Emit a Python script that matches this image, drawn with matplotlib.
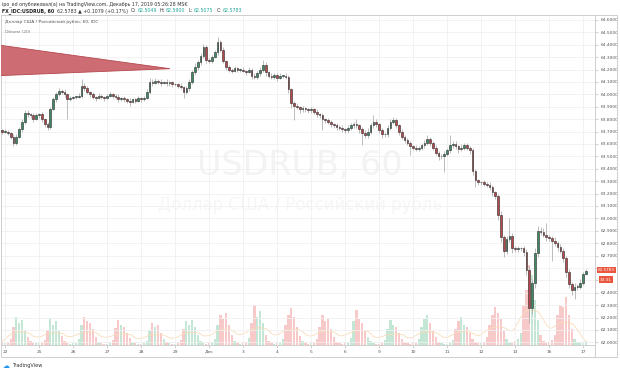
import numpy as np
import matplotlib
matplotlib.use("Agg")
import matplotlib.pyplot as plt
from matplotlib.lines import Line2D

# USDRUB, 60 (FX_IDC), one value per 2 hours
day_labels = ['22', '25', '26', '27', '28', '29', 'Дек', '3', '4', '5', '6',
              '9', '10', '11', '12', '13', '16', '17']

first_open = 63.72
closes = [63.71, 63.70,
          63.70, 63.69, 63.66, 63.61, 63.66, 63.72, 63.78, 63.85, 63.84, 63.83, 63.80, 63.83,
          63.84, 63.80, 63.76, 63.74, 63.88, 63.96, 64.00, 64.03, 64.02, 64.00, 63.96, 63.97,
          63.98, 63.98, 63.99, 64.07, 64.05, 64.02, 64.00, 63.98, 63.97, 63.99, 63.98, 63.97,
          63.99, 64.00, 63.99, 63.98, 63.96, 63.97, 63.96, 63.95, 63.94, 63.96, 63.95, 63.97,
          63.96, 63.97, 64.02, 64.10, 64.09, 64.11, 64.10, 64.09, 64.10, 64.09, 64.10, 64.08,
          64.08, 64.07, 64.06, 64.02, 64.05, 64.10, 64.18, 64.22, 64.26, 64.31, 64.38, 64.28,
          64.27, 64.30, 64.34, 64.42, 64.36, 64.27, 64.22, 64.20, 64.19, 64.21, 64.20, 64.20,
          64.19, 64.18, 64.20, 64.15, 64.14, 64.17, 64.20, 64.24, 64.18, 64.15, 64.14, 64.16,
          64.13, 64.15, 64.15, 64.14, 64.04, 63.93, 63.91, 63.90, 63.88, 63.89, 63.88, 63.87,
          63.88, 63.86, 63.84, 63.83, 63.80, 63.79, 63.78, 63.76, 63.75, 63.74, 63.73, 63.72,
          63.71, 63.73, 63.75, 63.76, 63.75, 63.72, 63.69, 63.67, 63.70, 63.75, 63.78, 63.76,
          63.71, 63.68, 63.68, 63.73, 63.78, 63.79, 63.75, 63.70, 63.66, 63.63, 63.61, 63.58,
          63.57, 63.56, 63.57, 63.59, 63.61, 63.64, 63.61, 63.57, 63.53, 63.50, 63.50, 63.52,
          63.55, 63.59, 63.60, 63.58, 63.56, 63.57, 63.59, 63.57, 63.55, 63.38, 63.31, 63.29,
          63.29, 63.28, 63.27, 63.25, 63.21, 63.18, 63.03, 62.85, 62.74, 62.83, 62.86, 62.76,
          62.75, 62.76, 62.76, 62.73, 62.58, 62.28, 62.48, 62.72, 62.90, 62.89, 62.87, 62.85,
          62.84, 62.82, 62.80, 62.77, 62.74, 62.68, 62.57, 62.47, 62.42, 62.45, 62.45, 62.48,
          62.55, 62.5783]

up_wick = [.01, .01,
           .02, .01, .01, .02, .02, .02, .02, .02, .02, .01, .02, .02,
           .01, .02, .01, .02, .02, .02, .02, .02, .01, .02, .01, .02,
           .01, .01, .02, .05, .02, .02, .01, .02, .01, .02, .01, .01,
           .01, .02, .01, .01, .02, .01, .02, .01, .02, .01, .01, .02,
           .01, .02, .02, .03, .02, .02, .01, .02, .01, .02, .01, .01,
           .01, .01, .02, .01, .02, .02, .02, .03, .02, .02, .03, .02,
           .01, .02, .02, .04, .02, .02, .01, .02, .01, .02, .01, .01,
           .02, .01, .02, .01, .02, .02, .02, .04, .02, .01, .02, .01,
           .01, .02, .01, .02, .02, .01, .02, .02, .01, .02, .01, .01,
           .02, .01, .02, .01, .02, .01, .02, .01, .01, .02, .01, .02,
           .01, .02, .02, .02, .04, .01, .02, .02, .03, .02, .05, .02,
           .01, .02, .01, .02, .02, .03, .02, .01, .02, .01, .02, .01,
           .01, .02, .01, .02, .02, .03, .02, .01, .02, .01, .02, .02,
           .02, .08, .02, .02, .01, .03, .02, .02, .01, .02, .02, .01,
           .01, .02, .01, .02, .02, .01, .02, .03, .02, .03, .14, .02,
           .02, .02, .01, .02, .02, .04, .03, .04, .04, .03, .03, .09,
           .02, .02, .03, .02, .02, .02, .02, .02, .02, .03, .02, .03,
           .02, .012]

dn_wick = [.01, .02,
           .01, .02, .02, .03, .02, .01, .02, .02, .02, .02, .02, .01,
           .02, .02, .02, .03, .02, .01, .02, .01, .02, .02, .16, .01,
           .01, .02, .01, .02, .02, .02, .02, .02, .02, .01, .02, .02,
           .01, .01, .02, .02, .02, .01, .02, .02, .03, .01, .02, .01,
           .02, .01, .01, .02, .02, .01, .02, .02, .01, .02, .02, .02,
           .01, .02, .02, .05, .02, .02, .02, .02, .02, .02, .02, .03,
           .02, .02, .01, .02, .02, .02, .02, .02, .02, .01, .02, .02,
           .01, .02, .01, .03, .02, .02, .02, .02, .03, .02, .02, .02,
           .02, .01, .02, .02, .03, .04, .12, .02, .03, .02, .02, .02,
           .02, .02, .02, .02, .09, .02, .02, .02, .02, .03, .02, .02,
           .02, .02, .02, .02, .02, .03, .10, .02, .02, .02, .02, .02,
           .02, .03, .02, .02, .02, .02, .02, .03, .02, .02, .02, .07,
           .02, .02, .02, .02, .02, .02, .03, .02, .02, .03, .02, .13,
           .02, .02, .02, .02, .03, .02, .02, .02, .03, .03, .06, .02,
           .02, .02, .02, .02, .03, .02, .04, .04, .05, .03, .02, .04,
           .02, .02, .02, .03, .04, .12, .05, .04, .03, .02, .02, .03,
           .02, .16, .02, .03, .02, .03, .04, .03, .04, .07, .03, .02,
           .02, .01]

volume = [2, 2,
          2, 3, 6, 18, 28, 22, 25, 15, 8, 4, 2, 2,
          2, 2, 5, 15, 27, 20, 24, 14, 9, 4, 2, 1,
          2, 2, 6, 20, 28, 24, 22, 16, 8, 3, 2, 1,
          1, 2, 5, 17, 25, 20, 18, 12, 7, 3, 2, 1,
          1, 2, 4, 14, 22, 18, 20, 12, 6, 3, 2, 1,
          1, 2, 5, 16, 24, 20, 25, 18, 10, 4, 2, 1,
          2, 3, 6, 20, 30, 26, 32, 20, 10, 4, 2, 1,
          2, 3, 7, 22, 40, 28, 34, 22, 10, 4, 2, 1,
          2, 3, 6, 20, 30, 37, 28, 18, 9, 4, 2, 1,
          2, 2, 6, 18, 30, 24, 26, 16, 8, 3, 2, 1,
          2, 3, 7, 24, 35, 26, 22, 14, 8, 4, 2, 1,
          1, 2, 5, 16, 25, 20, 18, 12, 6, 3, 2, 1,
          2, 2, 6, 18, 26, 30, 22, 14, 8, 3, 2, 1,
          1, 2, 5, 16, 24, 28, 20, 18, 12, 6, 3, 2,
          2, 3, 8, 20, 30, 38, 32, 26, 14, 6, 3, 2,
          4, 6, 12, 40, 55, 80, 70, 45, 25, 10, 4, 2,
          3, 5, 10, 30, 40, 38, 48, 30, 16, 6, 3, 2,
          3, 4]

# triangle drawing (bar index, price)
tri_x = [-3, -3, 58.2]
tri_y = [64.40, 64.15, 64.207]

# price scale labels (62.5 and 62.6 sit under the last-price tags)
price_ticks = np.round(np.arange(62.0, 64.61, 0.1), 1)
hidden_ticks = [62.5, 62.6]

bars_per_day = 12

closes = np.array(closes)
opens = np.r_[first_open, closes[:-1]]
highs = np.maximum(opens, closes) + np.array(up_wick)
lows = np.minimum(opens, closes) - np.array(dn_wick)
idx = np.arange(len(closes)) - 2
rising = closes >= opens

fig = plt.figure(figsize=(6.2, 3.73), dpi=100)
rect = [1 / 620, 1 - 345 / 373, 594 / 620, 330 / 373]
ax_v = fig.add_axes(rect)
ax = fig.add_axes(rect, sharex=ax_v)
ax.patch.set_alpha(0)

# volume + watermark underneath
ax_v.bar(idx, volume, width=0.8, color=np.where(rising, '#c4e6d4', '#f8c9c9'), linewidth=0)
vol_ma = np.convolve(volume, np.ones(10) / 10, mode='same')
ax_v.plot(idx, vol_ma, color='#f9dcb8', lw=0.6)
ax_v.set_ylim(0, 330)
ax_v.axis('off')
ax_v.text(0.503, 0.545, 'USDRUB, 60', transform=ax_v.transAxes, ha='center', va='center',
          fontsize=24, color='#f3f3f3')
ax_v.text(0.503, 0.424, 'Доллар США / Российский рубль', transform=ax_v.transAxes,
          ha='center', va='center', fontsize=12, color='#f6f6f6')

# candles
ax.vlines(idx, lows, highs, color='#a3a3a3', lw=0.5, zorder=2)
ax.bar(idx, np.maximum(np.abs(closes - opens), 0.004), bottom=np.minimum(opens, closes),
       width=0.6, color=np.where(rising, '#3d8a64', '#b8474c'),
       edgecolor='#2a2a2a', linewidth=0.4, zorder=3)

ax.fill(tri_x, tri_y, facecolor='#cd6d73', edgecolor='#b5474f', lw=0.6, zorder=4)

ax.set_xlim(-1.41, 208.2)
ax.set_ylim(61.979, 64.640)

ax.set_xticks(np.arange(len(day_labels)) * bars_per_day)
ax.set_xticklabels(day_labels)
ax.set_yticks(price_ticks)
ax.set_yticklabels(['' if v in hidden_ticks else '%.4f' % v for v in price_ticks])
ax.yaxis.tick_right()
ax.tick_params(axis='both', labelsize=3.2, colors='#bcbcbc', labelcolor='#555555', length=2, width=0.5)
ax.tick_params(axis='x', pad=1.5)
ax.tick_params(axis='y', pad=2)
ax.grid(True, color='#f0f0f0', lw=0.6, zorder=0)
for s in ax.spines.values():
    s.set_color('#cfcfcf')
    s.set_linewidth(0.7)

# last price tags
ax.annotate('62.5783', xy=(1.0, 62.5783), xycoords=('axes fraction', 'data'),
            xytext=(2, 0.5), textcoords='offset points', ha='left', va='center',
            fontsize=3.0, color='white',
            bbox=dict(boxstyle='square,pad=0.3', fc='#e9573f', ec='none'))
ax.annotate('33:31', xy=(1.0, 62.5783), xycoords=('axes fraction', 'data'),
            xytext=(3.5, -6.5), textcoords='offset points', ha='left', va='center',
            fontsize=3.0, color='white',
            bbox=dict(boxstyle='square,pad=0.3', fc='#e9573f', ec='none'))

# legend texts inside chart
ax.text(0.006, 0.985, 'Доллар США / Российский рубль, 60, IDC', transform=ax.transAxes,
        fontsize=3.2, color='#555555', va='top')
ax.text(0.006, 0.955, 'Объем (20)', transform=ax.transAxes, fontsize=3.2, color='#777777', va='top')

# header
fig.text(0.003, 1 - 4 / 373, 'ipo_ed опубликовал(а) на TradingView.com, Декабрь 17, 2019 05:26:28 MSK',
         fontsize=3.4, color='#333333', va='center')
renderer = fig.canvas.get_renderer()
hx = 0.003
for txt, col, wt in [('FX_IDC:USDRUB, 60', '#222222', 'bold'),
                     ('62.5783 \u25b2 +0.1079 (+0.17%)', '#333333', 'normal'),
                     ('O:', '#333333', 'normal'), ('62.5049', '#26a69a', 'normal'),
                     ('H:', '#333333', 'normal'), ('62.5900', '#26a69a', 'normal'),
                     ('L:', '#333333', 'normal'), ('62.5075', '#26a69a', 'normal'),
                     ('C:', '#333333', 'normal'), ('62.5783', '#26a69a', 'normal')]:
    t = fig.text(hx, 1 - 11 / 373, txt, fontsize=3.4, color=col, va='center', weight=wt)
    w = t.get_window_extent(renderer).width / 620
    gap = 1 / 620 if txt.endswith(':') else 3 / 620
    hx += w + gap

# outer frame lines
for xs, ys in [([1, 617], [357, 357]), ([617, 617], [15, 357]), ([1, 1], [345, 357]),
               ([595, 595], [345, 357]), ([595, 617], [15, 15])]:
    fig.add_artist(Line2D([x / 620 for x in xs], [1 - y / 373 for y in ys],
                          color='#cfcfcf', lw=0.7))

# TradingView logo
fig.text(3 / 620, 1 - 366 / 373, '\u2601', fontsize=5, color='#2196f3', va='center')
fig.text(12 / 620, 1 - 366 / 373, 'TradingView', fontsize=3.6, color='#333333', va='center')

fig.savefig('out.png', dpi=100, facecolor='white')
